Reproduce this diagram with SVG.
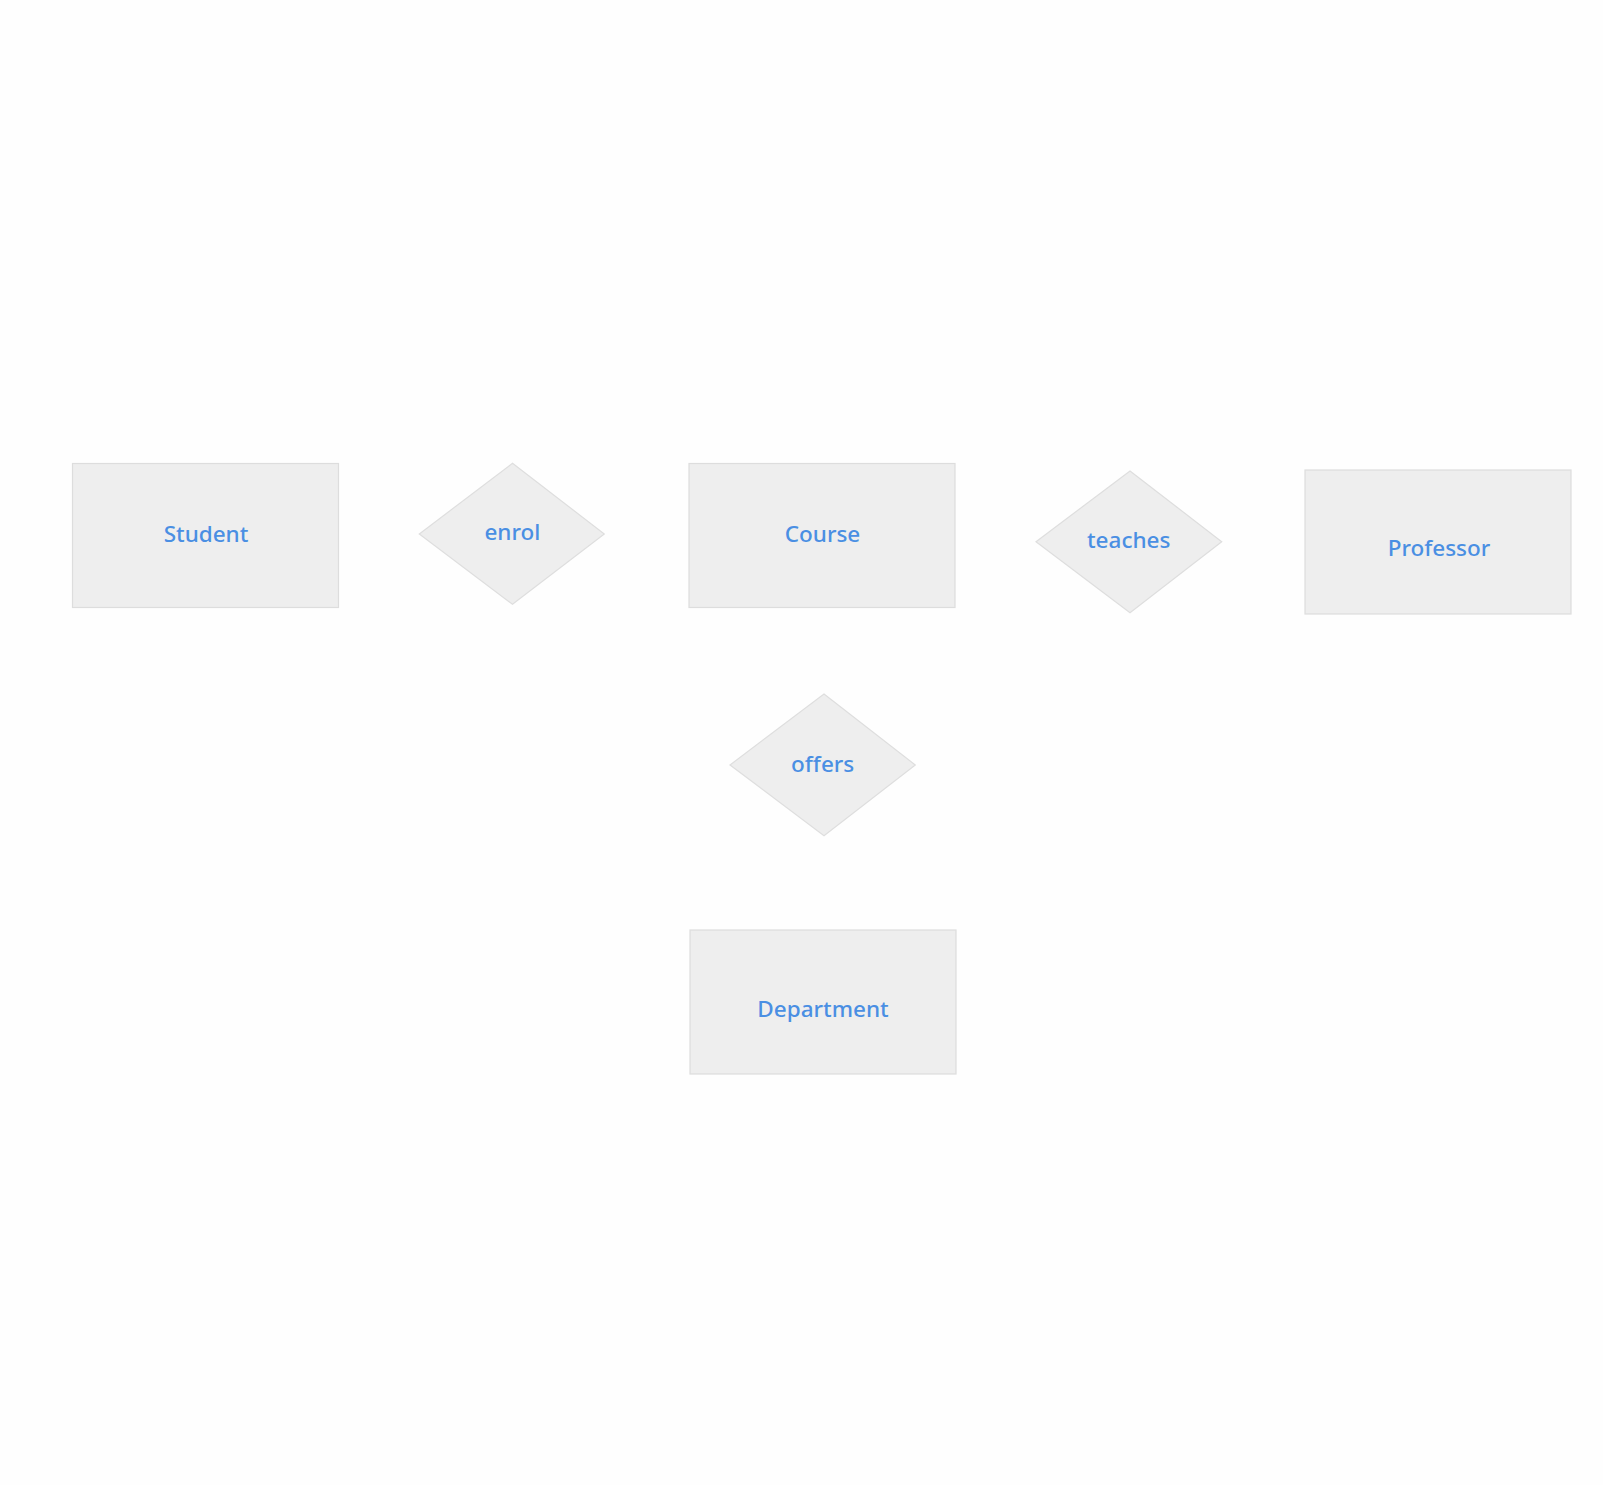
<svg xmlns="http://www.w3.org/2000/svg" width="1603" height="1485" viewBox="0 0 1603 1485">
<style>
.ent{fill:#eeeeee;stroke:#dddddd;stroke-width:1.2}
.rel{fill:#eeeeee;stroke:#dedede;stroke-width:1.2}
.lbl{font-family:"Noto Sans","Open Sans","Liberation Sans",sans-serif;font-size:22.5px;font-weight:500;fill:#4a8fe3;text-anchor:middle}
</style>
<rect width="1603" height="1485" fill="#fefefe"/>
<g id="connectors"></g>
<g id="student"><rect class="ent" x="72.5" y="463.5" width="266" height="144"/><text class="lbl" x="206" y="542">Student</text></g>
<g id="enrol"><polygon class="rel" points="512.5,463.3 604.3,534 512.5,604.3 419.3,534"/><text class="lbl" x="512.4" y="540">enrol</text></g>
<g id="course"><rect class="ent" x="689" y="463.5" width="266" height="144"/><text class="lbl" x="822.5" y="542">Course</text></g>
<g id="teaches"><polygon class="rel" points="1130,471 1221.7,541.7 1130,612.7 1036,541.7"/><text class="lbl" x="1128.7" y="547.5">teaches</text></g>
<g id="professor"><rect class="ent" x="1305" y="470" width="266" height="144"/><text class="lbl" x="1439" y="556">Professor</text></g>
<g id="offers"><polygon class="rel" points="824,694 915.3,765 824,835.7 730,765"/><text class="lbl" x="822.7" y="771.5">offers</text></g>
<g id="department"><rect class="ent" x="690" y="930" width="266" height="144"/><text class="lbl" x="823" y="1016.5">Department</text></g>
</svg>
